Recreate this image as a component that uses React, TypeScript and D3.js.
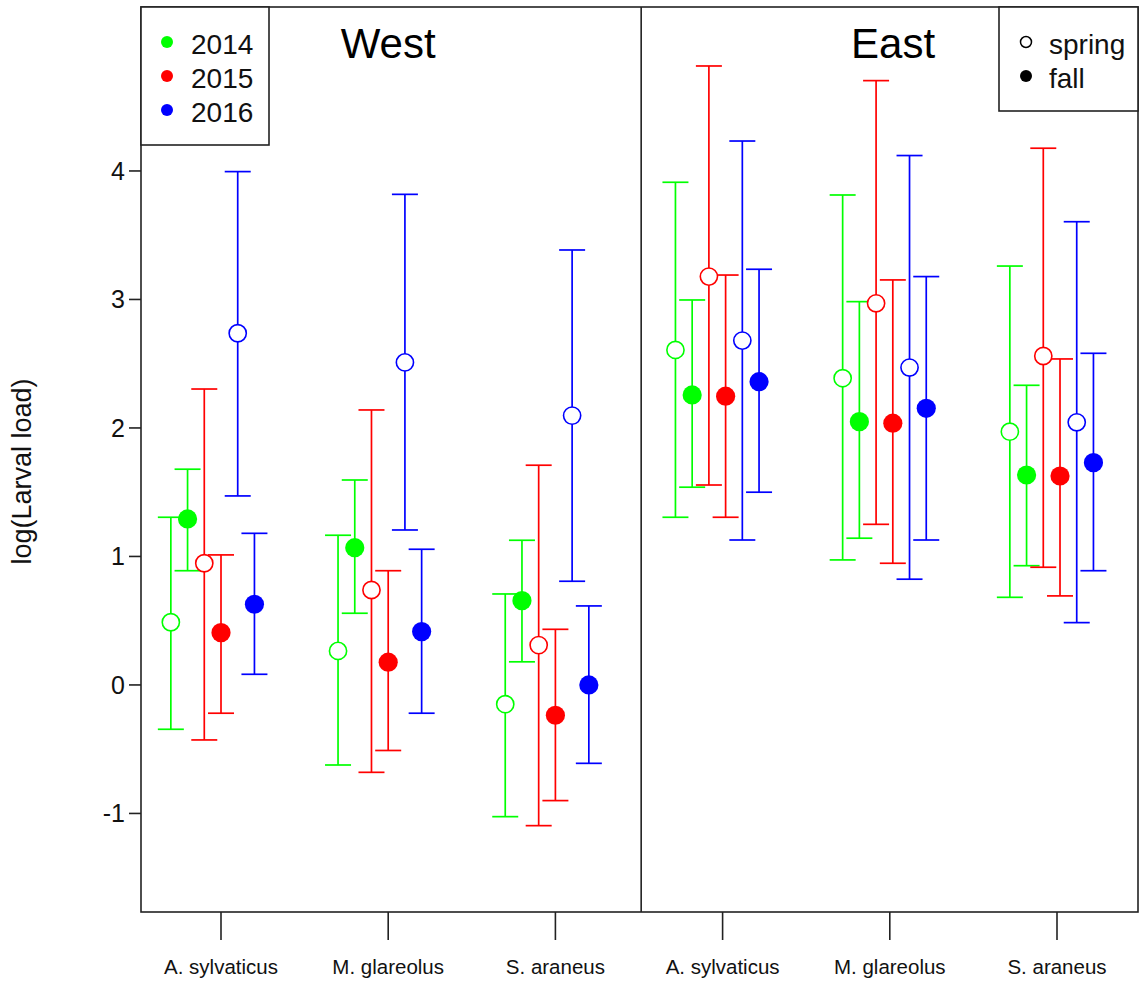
import React from "react";
import * as d3 from "d3";

// ---- data ----
const species = ["A. sylvaticus", "M. glareolus", "S. araneus"];
const regions = ["West", "East"];
const years = ["2014", "2015", "2016"];
const yearColors = ["#00FF00", "#FF0000", "#0000FF"];
const seasons = ["spring", "fall"];
const yTicks = [-1, 0, 1, 2, 3, 4];

// order within each species: spring2014, fall2014, spring2015, fall2015, spring2016, fall2016
const westMean = [
  [0.488, 1.292, 0.947, 0.407, 2.737, 0.628],
  [0.265, 1.068, 0.739, 0.177, 2.51, 0.415],
  [-0.15, 0.656, 0.31, -0.236, 2.096, 0.0],
];
const westLower = [
  [-0.345, 0.889, -0.428, -0.22, 1.471, 0.083],
  [-0.623, 0.558, -0.68, -0.51, 1.206, -0.22],
  [-1.025, 0.18, -1.095, -0.9, 0.807, -0.61],
];
const westUpper = [
  [1.305, 1.679, 2.303, 1.012, 3.995, 1.18],
  [1.165, 1.595, 2.14, 0.889, 3.818, 1.056],
  [0.708, 1.126, 1.71, 0.433, 3.385, 0.615],
];
const eastMean = [
  [2.607, 2.257, 3.178, 2.247, 2.68, 2.36],
  [2.387, 2.049, 2.97, 2.037, 2.47, 2.153],
  [1.971, 1.634, 2.56, 1.626, 2.044, 1.73],
];
const eastLower = [
  [1.305, 1.539, 1.556, 1.305, 1.128, 1.5],
  [0.973, 1.142, 1.25, 0.947, 0.823, 1.128],
  [0.682, 0.928, 0.916, 0.693, 0.485, 0.889],
];
const eastUpper = [
  [3.912, 2.996, 4.817, 3.19, 4.233, 3.235],
  [3.813, 2.983, 4.703, 3.152, 4.12, 3.178],
  [3.26, 2.332, 4.177, 2.537, 3.605, 2.581],
];

const W = 1139;
const H = 985;
const plot = { left: 141, right: 1138, top: 7, bottom: 912 };
const FONT = "'Liberation Sans', Arial, Helvetica, sans-serif";

export default function App() {
  const x = d3.scaleLinear().domain([1, 6]).range([221, 1057]);
  const y = d3.scaleLinear().domain([-1.767, 5.276]).range([plot.bottom, plot.top]);

  const dodge = (k: number) => (k - 3) * 0.1;
  const eastShift = 0.018;
  const dividerX = x(3.513);

  type Pt = { cx: number; m: number; lo: number; hi: number; color: string; open: boolean; key: string };
  const pts: Pt[] = [];
  const sets = [
    { means: westMean, lows: westLower, highs: westUpper, base: 0, shift: 0 },
    { means: eastMean, lows: eastLower, highs: eastUpper, base: 3, shift: eastShift },
  ];
  sets.forEach((s, r) => {
    species.forEach((sp, i) => {
      s.means[i].forEach((m, k) => {
        const yearIdx = Math.floor(k / 2);
        pts.push({
          cx: x(s.base + i + 1 + dodge(k) + s.shift),
          m,
          lo: s.lows[i][k],
          hi: s.highs[i][k],
          color: yearColors[yearIdx],
          open: k % 2 === 0,
          key: `${regions[r]}-${sp}-${k}`,
        });
      });
    });
  });

  const capHalf = 13;
  const lw = 1.7;
  const legendRows = [44, 78, 112];

  return (
    <svg
      width={W}
      height={H}
      style={{ position: "absolute", left: 0, top: 0, background: "#fff" }}
      fontFamily={FONT}
    >
      <rect x={0} y={0} width={W} height={H} fill="#fff" />

      {/* error bars */}
      {pts.map((p) => (
        <g key={"e" + p.key} stroke={p.color} strokeWidth={lw} fill="none">
          <line x1={p.cx} x2={p.cx} y1={y(p.lo)} y2={y(p.hi)} />
          <line x1={p.cx - capHalf} x2={p.cx + capHalf} y1={y(p.lo)} y2={y(p.lo)} />
          <line x1={p.cx - capHalf} x2={p.cx + capHalf} y1={y(p.hi)} y2={y(p.hi)} />
        </g>
      ))}
      {/* points */}
      {pts.map((p) =>
        p.open ? (
          <circle key={"p" + p.key} cx={p.cx} cy={y(p.m)} r={8.6} fill="#fff" stroke={p.color} strokeWidth={1.6} />
        ) : (
          <circle key={"p" + p.key} cx={p.cx} cy={y(p.m)} r={9.6} fill={p.color} />
        )
      )}

      {/* box and divider */}
      <rect
        x={plot.left}
        y={plot.top}
        width={plot.right - plot.left}
        height={plot.bottom - plot.top}
        fill="none"
        stroke="#222"
        strokeWidth={1.6}
      />
      <line x1={dividerX} x2={dividerX} y1={plot.top} y2={plot.bottom} stroke="#222" strokeWidth={1.6} />

      {/* y axis */}
      {yTicks.map((t) => (
        <g key={"yt" + t}>
          <line x1={plot.left - 12} x2={plot.left} y1={y(t)} y2={y(t)} stroke="#222" strokeWidth={1.6} />
          <text x={plot.left - 16} y={y(t)} dy="0.36em" textAnchor="end" fontSize={25} fill="#111">
            {t}
          </text>
        </g>
      ))}
      <text
        transform={`translate(31, ${(plot.top + plot.bottom) / 2 + 12}) rotate(-90)`}
        textAnchor="middle"
        fontSize={27}
        fill="#111"
      >
        log(Larval load)
      </text>

      {/* x axis */}
      {regions.map((reg, r) =>
        species.map((sp, i) => {
          const tx = x(r * 3 + i + 1);
          return (
            <g key={"xt" + reg + sp}>
              <line x1={tx} x2={tx} y1={plot.bottom} y2={plot.bottom + 28} stroke="#222" strokeWidth={1.6} />
              <text x={tx} y={967} dy="0.36em" textAnchor="middle" fontSize={20.5} fill="#111">
                {sp}
              </text>
            </g>
          );
        })
      )}

      {/* region titles */}
      <text x={x(2)} y={58} textAnchor="middle" fontSize={42} fill="#000">
        {regions[0]}
      </text>
      <text x={x(5.02)} y={58} textAnchor="middle" fontSize={42} fill="#000">
        {regions[1]}
      </text>

      {/* year legend */}
      <rect x={plot.left} y={plot.top} width={128} height={138} fill="#fff" stroke="#222" strokeWidth={1.6} />
      {years.map((yr, i) => (
        <g key={"ly" + yr}>
          <circle cx={167} cy={legendRows[i] - 2} r={6} fill={yearColors[i]} />
          <text x={191} y={legendRows[i]} dy="0.36em" fontSize={28} fill="#111">
            {yr}
          </text>
        </g>
      ))}

      {/* season legend */}
      <rect x={999} y={plot.top} width={plot.right - 999} height={104} fill="#fff" stroke="#222" strokeWidth={1.6} />
      {seasons.map((s, i) => (
        <g key={"ls" + s}>
          {i === 0 ? (
            <circle cx={1026} cy={legendRows[i] - 2} r={5.5} fill="#fff" stroke="#000" strokeWidth={1.5} />
          ) : (
            <circle cx={1026} cy={legendRows[i] - 2} r={6} fill="#000" />
          )}
          <text x={1049} y={legendRows[i]} dy="0.36em" fontSize={28} fill="#111">
            {s}
          </text>
        </g>
      ))}
    </svg>
  );
}
